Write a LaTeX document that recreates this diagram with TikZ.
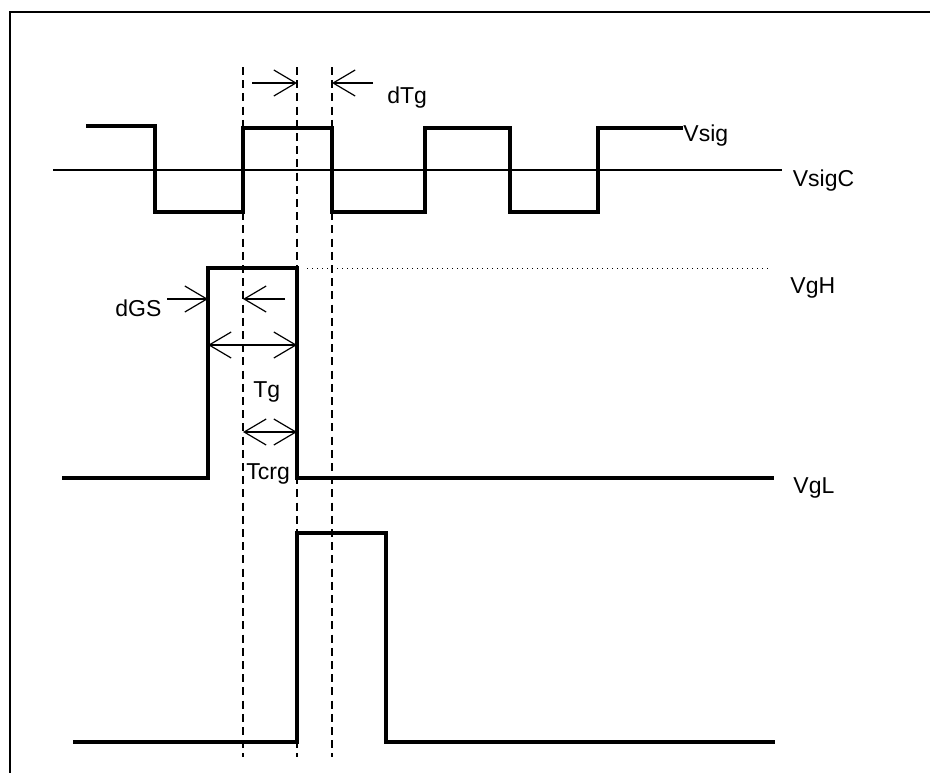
\documentclass[tikz,border=0pt]{standalone}
\usepackage{fontspec}
\setmainfont{Liberation Sans}
\usetikzlibrary{positioning}
\usetikzlibrary{arrows.meta}

\tikzset{
	wave/.style={line width=2.1pt, line join=miter},
	guide/.style={dash pattern=on 4pt off 2.6pt, line width=0.7pt},
	dim/.style={line width=0.6pt, -{Straight Barb[length=11pt,width=13pt]}},
	dimboth/.style={line width=0.6pt, {Straight Barb[length=11pt,width=13pt]}-{Straight Barb[length=11pt,width=13pt]}},
	lbl/.style={inner sep=0pt, anchor=base west, font=\fontsize{11.5}{14}\selectfont}
}

\begin{document}
\begin{tikzpicture}[x=0.5pt,y=-0.5pt]
	\useasboundingbox (0,0) rectangle (930,772);
	% Frame %
	\draw [line width=0.8pt] (10,780) -- (10,12) -- (940,12);
	% Guide Lines %
	\coordinate (gatea) at (243,67);
	\coordinate (gateb) at (297,67);
	\coordinate (gatec) at (332,67);
	\foreach \x in {243, 297, 332}
		{\draw [guide] (\x,67) -- (\x,757);}
	% Signal %
	\draw [line width=0.8pt] (53,170) -- (782,170) node (vsigc) [lbl] at (792,186) {VsigC};
	\draw [wave] (86,126) -- (155,126) -- (155,212) -- (243,212) -- (243,128) -- (332,128)
		-- (332,212) -- (425,212) -- (425,128) -- (510,128) -- (510,212) -- (598,212)
		-- (598,128) -- (683,128);
	\node (vsig) [lbl] at (683,141) {Vsig};
	% dTg %
	\coordinate (dtgl) at (252,83);
	\coordinate (dtgla) at (297,83);
	\coordinate (dtgr) at (373,83);
	\coordinate (dtgra) at (332,83);
	\draw [dim] (dtgl) -- (dtgla);
	\draw [dim] (dtgr) -- (dtgra);
	\node (dtg) [lbl] at (387,103) {dTg};
	% First Gate %
	\draw [wave] (62,478) -- (208,478) -- (208,268) -- (297,268) -- (297,478) -- (774,478);
	\draw [dotted, line width=0.5pt] (307,268) -- (768,268);
	\node (vgh) [lbl] at (790,293) {VgH};
	\node (vgl) [lbl] at (793,493) {VgL};
	% dGS %
	\node (dgs) [lbl] at (115,316) {dGS};
	\coordinate (dgsl) at (167,299);
	\coordinate (dgsla) at (208,299);
	\coordinate (dgsr) at (285,299);
	\coordinate (dgsra) at (243,299);
	\draw [dim] (dgsl) -- (dgsla);
	\draw [dim] (dgsr) -- (dgsra);
	% Tg and Tcrg %
	\coordinate (tgl) at (208,345);
	\coordinate (tgr) at (297,345);
	\draw [dimboth] (tgl) -- (tgr);
	\node (tg) [lbl] at (253,397) {Tg};
	\coordinate (tcrgl) at (243,432);
	\coordinate (tcrgr) at (297,432);
	\draw [dimboth] (tcrgl) -- (tcrgr);
	\node (tcrg) [lbl] at (246,479) {Tcrg};
	% Second Gate %
	\draw [wave] (73,742) -- (297,742) -- (297,533) -- (386,533) -- (386,742) -- (775,742);
\end{tikzpicture}
\end{document}
